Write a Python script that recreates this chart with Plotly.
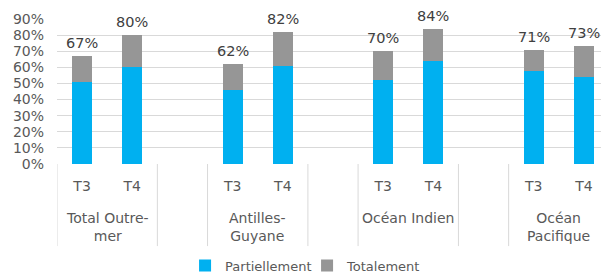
import plotly.graph_objects as go

groups = ["Total Outre-<br>mer", "Antilles-<br>Guyane", "Océan Indien", "Océan<br>Pacifique"]
periods = ["T3", "T4"]
partiellement = [51, 60, 46, 61, 52, 64, 58, 54]
totalement = [16, 20, 16, 21, 18, 20, 13, 19]
total_labels = ["67%", "80%", "62%", "82%", "70%", "84%", "71%", "73%"]
y_ticks = [0, 10, 20, 30, 40, 50, 60, 70, 80, 90]

# positions: each group has 2 categories followed by a blank spacer category
xpos = []
for g in range(len(groups)):
    for p in range(len(periods)):
        xpos.append(g * 3 + p)
totals = [a + b for a, b in zip(partiellement, totalement)]

BLUE = "#00B0F0"
GRAY = "#969696"
TXT = "#595959"
GRID = "#D9D9D9"
FONT = "DejaVu Sans"

fig = go.Figure()
fig.add_trace(go.Bar(x=xpos, y=partiellement, name="Partiellement", marker_color=BLUE,
                     width=0.4, marker_line_width=0))
fig.add_trace(go.Bar(x=xpos, y=totalement, name="Totalement", marker_color=GRAY,
                     width=0.4, marker_line_width=0))

for x, t, lab in zip(xpos, totals, total_labels):
    fig.add_annotation(x=x, y=t, xref="x", yref="y", yanchor="bottom", yshift=3,
                       text=lab, showarrow=False,
                       font=dict(size=14.5, color="#404040", family=FONT))

ncat = len(groups) * 3 - 1
# divider lines in the category axis area
dividers = [-0.5]
for g in range(len(groups) - 1):
    dividers += [g * 3 + 1.5, g * 3 + 2.5]
for d in dividers:
    fig.add_shape(type="line", xref="x", yref="paper", x0=d, x1=d, y0=0, y1=-0.566,
                  line=dict(color=GRID, width=1))

for g, name in enumerate(groups):
    fig.add_annotation(x=g * 3 + 0.5, xref="x", y=-0.30, yref="paper", yanchor="top",
                       text=name, showarrow=False,
                       font=dict(size=14, color=TXT, family=FONT))

# the page body adds an 8px offset, so the figure is 8px smaller than the window
fig.update_layout(
    width=601, height=267,
    margin=dict(l=49, r=0, t=11, b=111, autoexpand=False),
    paper_bgcolor="white", plot_bgcolor="white",
    barmode="stack",
    font=dict(family=FONT, color=TXT, size=13),
    showlegend=True,
    legend=dict(orientation="h", x=0.232, xanchor="left", y=-0.70, yanchor="middle",
                font=dict(size=13, color=TXT, family=FONT), entrywidth=77,
                traceorder="normal"),
    xaxis=dict(range=[-0.5, ncat - 0.5], tickmode="array", tickvals=xpos,
               ticktext=periods * len(groups), showgrid=False, zeroline=False,
               showline=False, ticks="", ticklabelstandoff=12, automargin=False,
               tickfont=dict(size=14, color=TXT, family=FONT), fixedrange=True),
    yaxis=dict(range=[0, 90], tickmode="array", tickvals=y_ticks,
               ticktext=[f"{v}%" for v in y_ticks], showgrid=True, gridcolor=GRID,
               gridwidth=1, zeroline=False, showline=False, ticks="", automargin=False,
               ticklabelstandoff=12,
               tickfont=dict(size=14, color=TXT, family=FONT), fixedrange=True),
)
fig.write_html("out.html")
